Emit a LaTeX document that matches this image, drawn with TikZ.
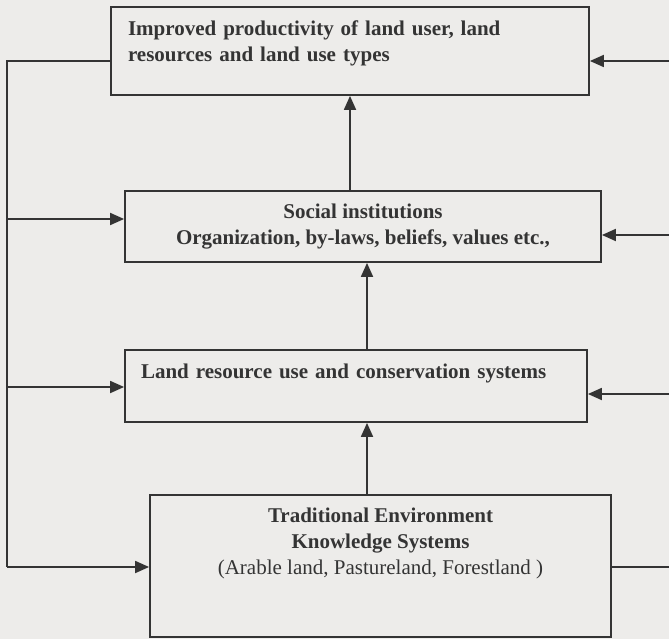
\documentclass[tikz,border=0pt]{standalone}
\usepackage{fontspec}
\setmainfont{Liberation Serif}
\usetikzlibrary{arrows.meta}

\definecolor{paper}{RGB}{237,236,234}
\definecolor{ink}{RGB}{52,52,52}

\begin{document}
\begin{tikzpicture}[x=1pt, y=-1pt, >={Triangle[length=14pt,width=12pt]}, line width=1.8pt,
    box/.style={draw=ink, fill=paper, rectangle, inner sep=0pt, text=ink,
                font=\fontsize{21}{26}\selectfont\bfseries},
    link/.style={draw=ink}]
    % Page
    \fill [paper] (0,0) rectangle (669,639);
    \useasboundingbox (0,0) rectangle (669,639);

    % Nodes {improved, social, landuse, tek}
    \node [box, minimum width=478pt, minimum height=88pt, text width=444pt,
           align=left, text depth=46pt]            (improved) at (350,51)
          {Improved productivity of land user, land\\resources and land use types};
    \node [box, minimum width=476pt, minimum height=71pt, align=center]
                                                    (social)   at (363,226.5)
          {Social institutions\\Organization, by-laws, beliefs, values etc.,};
    \node [box, minimum width=462pt, minimum height=72pt, text width=430pt,
           align=left, text depth=30pt]            (landuse)  at (356,386)
          {Land resource use and conservation systems};
    \node [box, minimum width=461pt, minimum height=142pt, align=center,
           text depth=49.5pt]                      (tek)      at (380.5,566)
          {Traditional Environment\\Knowledge Systems\\
           \mdseries (Arable land, Pastureland, Forestland )};

    % Loose ends
    \coordinate (lefttop) at (7,61);
    \coordinate (left2)   at (7,219);
    \coordinate (left3)   at (7,387);
    \coordinate (leftbot) at (7,567);
    \coordinate (right1)  at (669,61);
    \coordinate (right2)  at (669,235);
    \coordinate (right3)  at (669,394);
    \coordinate (right4)  at (669,567);
    \coordinate (spine)   at (367,0);

    % Paths
    \draw [link, ->] (social.north -| improved.south) -- (improved.south);
    \draw [link, ->] (landuse.north -| spine) -- (social.south -| spine);
    \draw [link, ->] (tek.north -| spine) -- (landuse.south -| spine);

    \draw [link] (improved.west |- lefttop) -- (lefttop) -- (leftbot);
    \draw [link, ->] (left2)   -- (social.west |- left2);
    \draw [link, ->] (left3)   -- (landuse.west |- left3);
    \draw [link, ->] (leftbot) -- (tek.west |- leftbot);

    \draw [link, ->] (right1) -- (improved.east |- right1);
    \draw [link, ->] (right2) -- (social.east |- right2);
    \draw [link, ->] (right3) -- (landuse.east |- right3);
    \draw [link] (tek.east |- right4) -- (right4);
\end{tikzpicture}
\end{document}
